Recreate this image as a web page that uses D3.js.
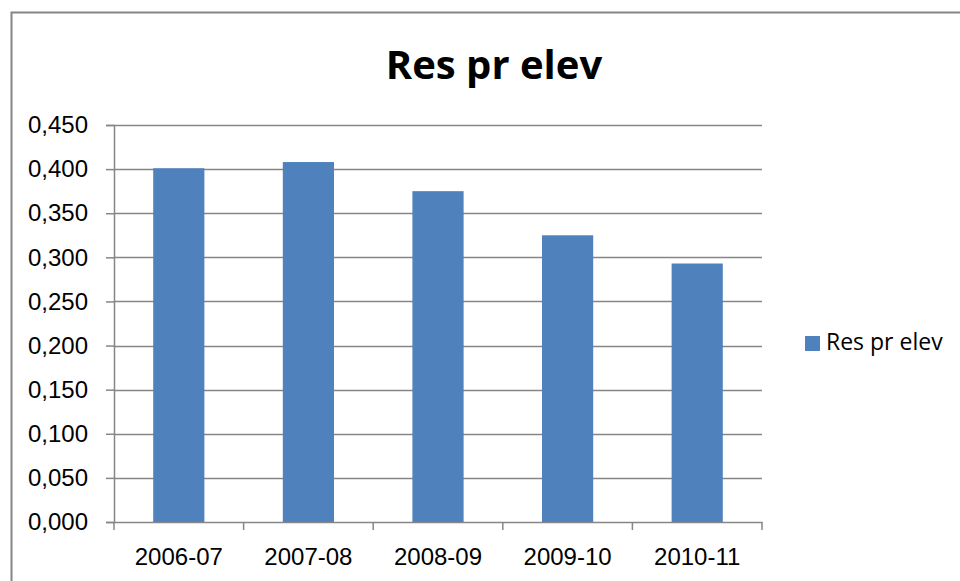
<!DOCTYPE html>
<html>
<head>
<meta charset="utf-8">
<script src="https://cdn.jsdelivr.net/npm/d3@7"></script>
<style>
  body { margin: 0; background: #fff; }
  svg { display: block; font-family: "Open Sans", Lato, sans-serif; }
</style>
</head>
<body>
<div id="chart"></div>
<script>
// data
var categories = ["2006-07", "2007-08", "2008-09", "2009-10", "2010-11"];
var values = [0.401, 0.408, 0.375, 0.325, 0.293];
var yTicks = [0, 0.05, 0.1, 0.15, 0.2, 0.25, 0.3, 0.35, 0.4, 0.45];
var seriesName = "Res pr elev";

var W = 960, H = 581;
var margin = { top: 125, right: 198, bottom: 59, left: 114 };
var width = W - margin.left - margin.right;
var height = H - margin.top - margin.bottom;
var barColor = "#4F81BD";
var lineColor = "#868686";

var svg = d3.select("#chart").append("svg")
  .attr("width", W)
  .attr("height", H);

// chart frame (only top and left edges are in view)
svg.append("path")
  .attr("d", "M11.5," + H + "V12.5H" + W)
  .attr("fill", "none")
  .attr("stroke", lineColor)
  .attr("stroke-width", 2);

svg.append("text")
  .attr("x", 494)
  .attr("y", 79)
  .attr("text-anchor", "middle")
  .style("font-size", "40px")
  .style("font-weight", "bold")
  .text(seriesName);

var g = svg.append("g")
  .attr("transform", "translate(" + margin.left + "," + margin.top + ")");

var x = d3.scaleBand().domain(categories).range([0, width]).padding(0);
var y = d3.scaleLinear().domain([0, 0.45]).range([height, 0]);
var fmt = function (d) { return d3.format(".3f")(d).replace(".", ","); };

// gridlines
g.append("g")
  .selectAll("line")
  .data(yTicks.slice(1))
  .enter()
  .append("line")
  .attr("x1", 0)
  .attr("x2", width)
  .attr("y1", function (d) { return Math.round(y(d)) + 0.5; })
  .attr("y2", function (d) { return Math.round(y(d)) + 0.5; })
  .attr("stroke", lineColor)
  .attr("stroke-width", 1.5);

// bars
var barW = x.bandwidth() * 0.395;
g.selectAll("rect.bar")
  .data(values)
  .enter()
  .append("rect")
  .attr("class", "bar")
  .attr("x", function (d, i) { return x(categories[i]) + (x.bandwidth() - barW) / 2; })
  .attr("y", function (d) { return y(d); })
  .attr("width", barW)
  .attr("height", function (d) { return height - y(d); })
  .attr("fill", barColor);

// y axis
var yAxis = g.append("g")
  .call(d3.axisLeft(y).tickValues(yTicks).tickFormat(fmt).tickSize(8).tickPadding(18));
yAxis.select(".domain").attr("stroke", lineColor).attr("stroke-width", 1.5);
yAxis.selectAll(".tick line").attr("stroke", lineColor).attr("stroke-width", 1.5);
yAxis.selectAll("text").style("font-size", "24px").attr("fill", "#000");

// x axis
var xAxis = g.append("g")
  .attr("transform", "translate(0," + height + ")")
  .call(d3.axisBottom(x).tickSize(0).tickPadding(26));
xAxis.select(".domain").attr("stroke", lineColor).attr("stroke-width", 1.5);
xAxis.selectAll("text").style("font-size", "24px").attr("fill", "#000");
xAxis.selectAll(".sep")
  .data(d3.range(categories.length + 1))
  .enter()
  .append("line")
  .attr("class", "sep")
  .attr("x1", function (i) { return i * x.step(); })
  .attr("x2", function (i) { return i * x.step(); })
  .attr("y1", 0)
  .attr("y2", 8)
  .attr("stroke", lineColor)
  .attr("stroke-width", 1.5);

// legend
var legend = svg.append("g").attr("transform", "translate(805,336)");
legend.append("rect")
  .attr("width", 15)
  .attr("height", 15)
  .attr("fill", barColor);
legend.append("text")
  .attr("x", 21)
  .attr("y", 14)
  .style("font-size", "23px")
  .text(seriesName);
</script>
</body>
</html>
